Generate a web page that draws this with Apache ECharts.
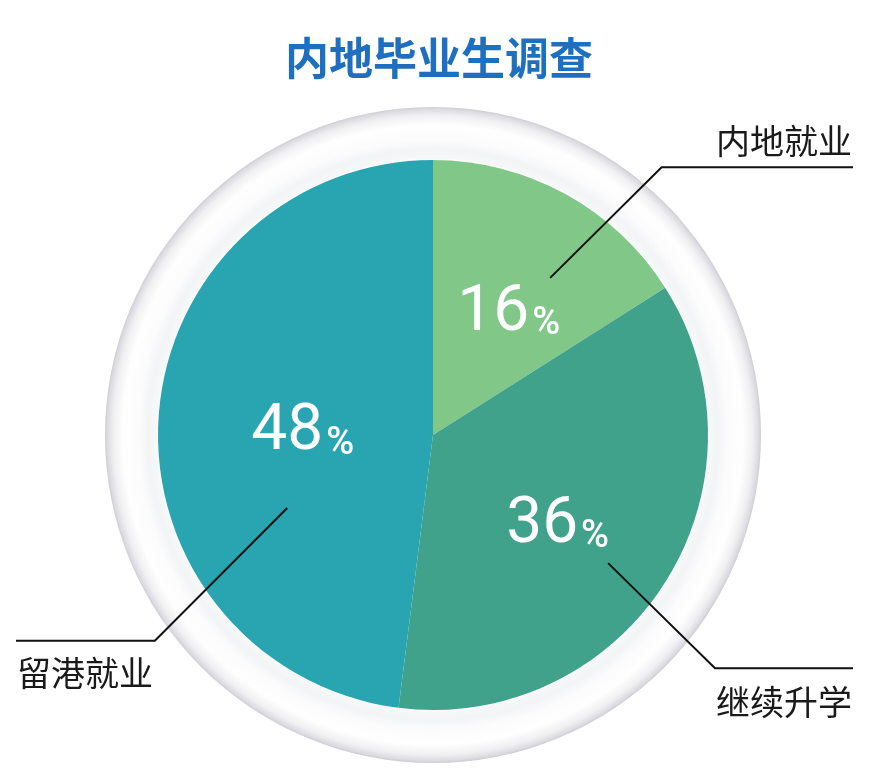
<!DOCTYPE html>
<html>
<head>
<meta charset="utf-8">
<script src="https://cdn.jsdelivr.net/npm/echarts@6/dist/echarts.min.js"></script>
<style>
html,body{margin:0;padding:0;background:#ffffff;}
#main{width:878px;height:778px;}
</style>
</head>
<body>
<div id="main"></div>
<script>
// ---- data ----
const titleText = '内地毕业生调查';
const categories = ['内地就业', '继续升学', '留港就业'];
const values = [16, 36, 48];

// ---- style / layout (not data) ----
const CX = 433, CY = 435, R = 275, RING = 328;
const colors = ['#80c788', '#40a28b', '#28a5b0'];
// leader lines in polar terms relative to the pie centre (angle clockwise from top, degrees)
const leaders = [
  { a0: 36.7, r0: 196, a1: 40.5, r1: 352, side: 'right', textDy: -26 },
  { a0: 126.2, r0: 217, a1: 129.6, r1: 366, side: 'right', textDy: 34 },
  { a0: 243.4, r0: 163, a1: 233.5, r1: 346, side: 'left', textDy: 32 }
];
// small nudges of the inside percentage labels
const insideNudge = [[8, 2], [6, 16], [10, 7]];
const EDGE_L = 16, EDGE_R = 853;

function polar(a, r) {
  const t = a * Math.PI / 180;
  return [CX + r * Math.sin(t), CY - r * Math.cos(t)];
}

const chart = echarts.init(document.getElementById('main'), null, { renderer: 'canvas' });
const pieData = categories.map((n, i) => ({ name: n, value: values[i], itemStyle: { color: colors[i] } }));

chart.setOption({
  backgroundColor: '#ffffff',
  animation: false,
  title: {
    text: titleText,
    left: 'center',
    top: 31,
    textStyle: { fontSize: 44, fontWeight: 'bold', color: '#1f6fc0', fontFamily: 'Noto Sans CJK SC' }
  },
  series: [
    {
      type: 'pie',
      silent: true,
      z: 1,
      center: [CX, CY],
      radius: [R, RING],
      label: { show: false },
      labelLine: { show: false },
      data: [{
        value: 1,
        itemStyle: {
          color: {
            type: 'radial', x: CX, y: CY, r: RING, global: true,
            colorStops: [
              { offset: 0, color: '#ffffff' },
              { offset: 0.838, color: '#ffffff' },
              { offset: 0.845, color: '#f6f7f8' },
              { offset: 0.87, color: '#f3f4f6' },
              { offset: 0.9, color: '#fcfcfd' },
              { offset: 0.945, color: '#fefefe' },
              { offset: 0.975, color: '#f0f0f2' },
              { offset: 0.992, color: '#dddde2' },
              { offset: 1, color: '#cdcdd3' }
            ]
          }
        }
      }]
    },
    {
      type: 'pie',
      silent: true,
      z: 2,
      center: [CX, CY],
      radius: [0, R],
      startAngle: 90,
      clockwise: true,
      data: pieData,
      label: {
        show: true,
        position: 'inside',
        formatter: p => '{v|' + p.value + '}{p|%}',
        rich: {
          v: { fontSize: 64, color: '#ffffff', fontFamily: 'Roboto', fontWeight: 400, verticalAlign: 'bottom' },
          p: { fontSize: 38, color: '#ffffff', fontFamily: 'Roboto', fontWeight: 500, verticalAlign: 'bottom', padding: [0, 0, 2, 3] }
        }
      },
      labelLine: { show: false },
      labelLayout: function (params) {
        const n = insideNudge[params.dataIndex];
        return { dx: n[0], dy: n[1] };
      }
    },
    {
      type: 'pie',
      silent: true,
      z: 10,
      center: [CX, CY],
      radius: [0, R],
      startAngle: 90,
      clockwise: true,
      data: categories.map((n, i) => ({ name: n, value: values[i] })),
      itemStyle: { color: 'rgba(0,0,0,0)' },
      label: {
        show: true,
        position: 'outside',
        overflow: 'none',
        width: 200,
        formatter: '{b}',
        fontSize: 34,
        color: '#1a1a1a',
        fontFamily: 'Noto Sans CJK SC'
      },
      labelLine: { show: true, lineStyle: { color: '#111111', width: 2 } },
      labelLayout: function (params) {
        const L = leaders[params.dataIndex];
        const p0 = polar(L.a0, L.r0);
        const p1 = polar(L.a1, L.r1);
        const endX = L.side === 'right' ? EDGE_R : EDGE_L;
        const p2 = [endX, p1[1]];
        return {
          x: L.side === 'right' ? EDGE_R - 1 : EDGE_L + 1,
          y: p1[1] + L.textDy,
          align: L.side === 'right' ? 'right' : 'left',
          verticalAlign: 'middle',
          labelLinePoints: [p0, p1, p2]
        };
      }
    }
  ]
});
</script>
</body>
</html>
